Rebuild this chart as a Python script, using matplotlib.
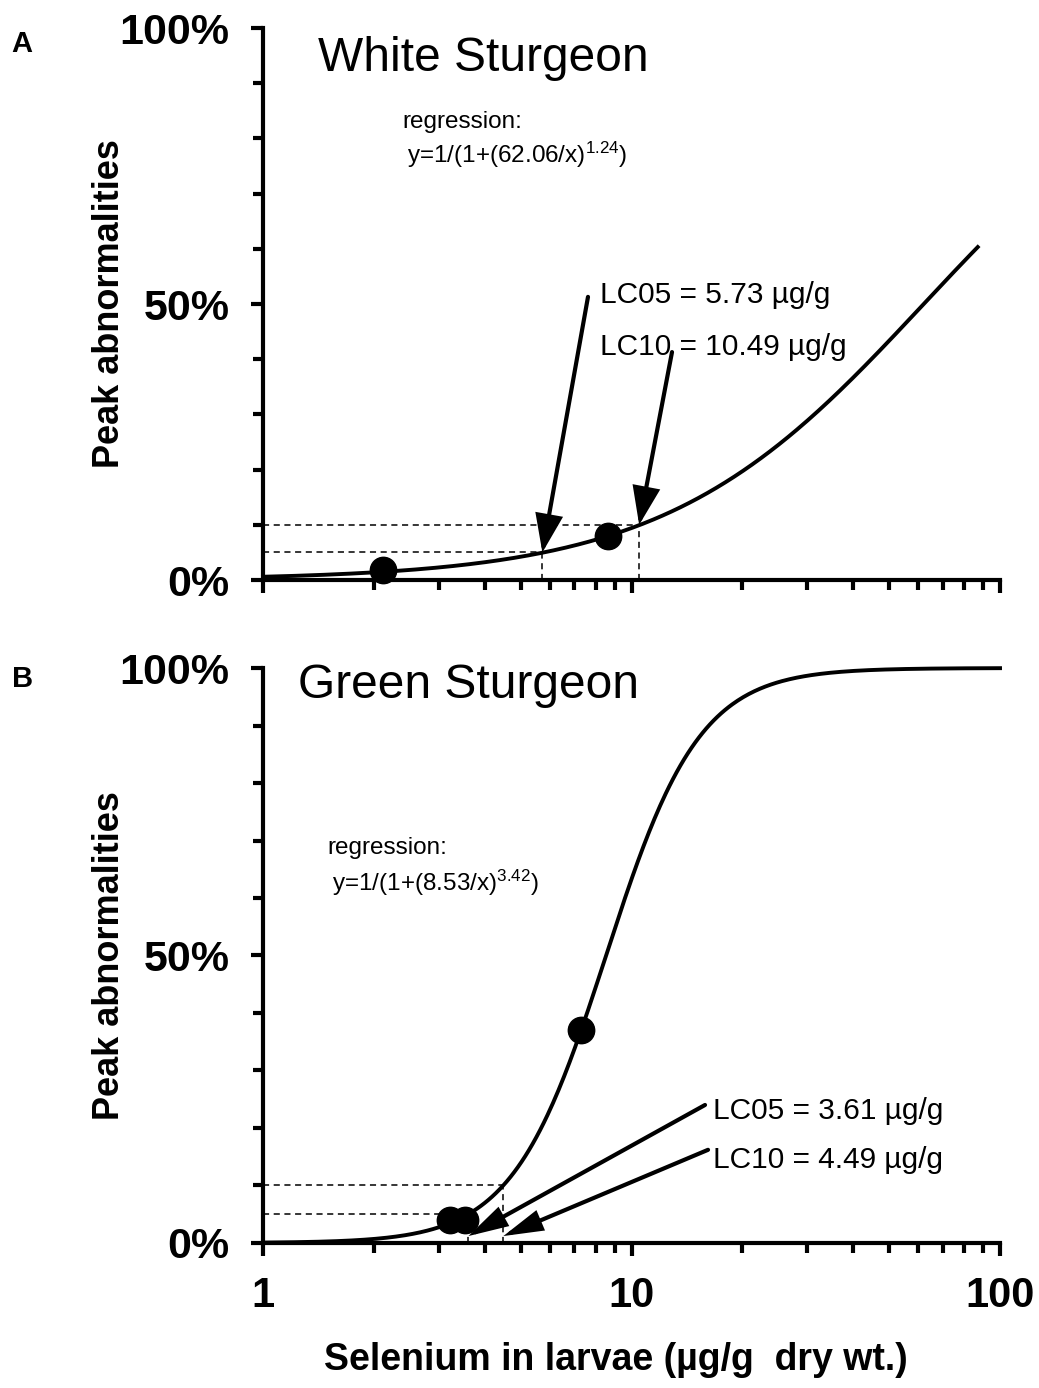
import numpy as np
import matplotlib
matplotlib.use('Agg')
import matplotlib.pyplot as plt
from matplotlib.ticker import FixedLocator, NullFormatter

plt.rcParams['font.family'] = ['Liberation Sans', 'DejaVu Sans']
plt.rcParams['mathtext.fontset'] = 'custom'
plt.rcParams['mathtext.rm'] = 'Liberation Sans'
plt.rcParams['mathtext.it'] = 'Liberation Sans'

# --- data ---
# White sturgeon: y = 1/(1+(ec50/x)^slope)
ws_ec50, ws_slope = 62.06, 1.24
ws_xmax = 87.0
ws_pts_x = [2.12, 8.63]
ws_pts_y = [0.018, 0.080]
ws_lc05, ws_lc10 = 5.73, 10.49

# Green sturgeon
gs_ec50, gs_slope = 8.53, 3.42
gs_xmax = 100.0
gs_pts_x = [3.22, 3.53, 7.29]
gs_pts_y = [0.040, 0.040, 0.370]
gs_lc05, gs_lc10 = 3.61, 4.49

y_ticks = [0, 0.5, 1.0]
y_ticklabels = ['0%', '50%', '100%']
x_ticks = [1, 10, 100]
x_ticklabels = ['1', '10', '100']


def logistic(x, ec50, slope):
    return 1.0 / (1.0 + (ec50 / x) ** slope)


fig = plt.figure(figsize=(10.39, 13.88), dpi=100)
axA = fig.add_axes([0.2531, 0.5821, 0.7094, 0.3977])
axB = fig.add_axes([0.2531, 0.1045, 0.7094, 0.4142])


def style_axis(ax, show_xlabels):
    ax.set_xscale('log')
    ax.set_xlim(1, 100)
    ax.set_ylim(0, 1)
    for s in ['top', 'right']:
        ax.spines[s].set_visible(False)
    for s in ['left', 'bottom']:
        ax.spines[s].set_linewidth(3)
    ax.yaxis.set_major_locator(FixedLocator(y_ticks))
    ax.yaxis.set_minor_locator(FixedLocator(np.arange(0.1, 1.0, 0.1)))
    ax.set_yticklabels(y_ticklabels, fontsize=31, fontweight='bold')
    ax.xaxis.set_major_locator(FixedLocator(x_ticks))
    minors = [m * d for d in [1, 10] for m in range(2, 10)]
    ax.xaxis.set_minor_locator(FixedLocator(minors))
    ax.xaxis.set_minor_formatter(NullFormatter())
    if show_xlabels:
        ax.set_xticklabels(x_ticklabels, fontsize=30, fontweight='bold')
    else:
        ax.set_xticklabels([])
    ax.tick_params(which='major', length=9, width=3, direction='out', pad=15)
    ax.tick_params(which='minor', length=7, width=3, direction='out')
    ax.tick_params(axis='x', which='major', pad=15)
    ax.set_ylabel('Peak abnormalities', fontsize=26, fontweight='bold')
    ax.yaxis.set_label_coords(-0.1845, 0.5)


def draw_panel(ax, ec50, slope, xmax, px, py, lc05, lc10, title, title_xy,
               reg_xy, lc_text_xy, arrows, head_w):
    x = np.logspace(0, np.log10(xmax), 400)
    ax.plot(x, logistic(x, ec50, slope), color='k', lw=2.8, zorder=3,
            clip_on=False)
    # dashed guide lines to LC05 / LC10
    dash = dict(color='k', lw=1.1, ls='--', dashes=(4, 3), zorder=2)
    ax.plot([1, lc05], [0.05, 0.05], **dash)
    ax.plot([1, lc10], [0.10, 0.10], **dash)
    ax.plot([lc10, lc10], [0, 0.10], **dash)
    ax.plot([lc05, lc05], [0, 0.05], **dash)
    ax.plot(px, py, 'o', color='k', ms=19, zorder=4, clip_on=False)
    ax.text(title_xy[0], title_xy[1], title, transform=ax.transAxes,
            fontsize=34.5, va='center', ha='left')
    ax.text(reg_xy[0], reg_xy[1], 'regression:', transform=ax.transAxes,
            fontsize=17.5, va='center', ha='left')
    ax.text(reg_xy[2], reg_xy[3],
            'y=1/(1+(%.2f/x)$^{%.2f}$)' % (ec50, slope),
            transform=ax.transAxes, fontsize=17.5, va='center', ha='left')
    ax.text(lc_text_xy[0], lc_text_xy[1], 'LC05 = %.2f µg/g' % lc05,
            fontsize=21.5, va='center', ha='left')
    ax.text(lc_text_xy[0], lc_text_xy[2], 'LC10 = %.2f µg/g' % lc10,
            fontsize=21.5, va='center', ha='left')
    style = '-|>,head_length=1.1,head_width=%.2f' % head_w
    for (tx, ty, hx, hy) in arrows:
        ax.annotate('', xy=(hx, hy), xytext=(tx, ty), annotation_clip=False,
                    arrowprops=dict(arrowstyle=style, color='k', lw=3,
                                    mutation_scale=20, joinstyle='miter',
                                    shrinkA=0, shrinkB=0, clip_on=False),
                    zorder=5)


style_axis(axA, False)
style_axis(axB, True)

draw_panel(axA, ws_ec50, ws_slope, ws_xmax, ws_pts_x, ws_pts_y, ws_lc05, ws_lc10,
           'White Sturgeon', (0.0746, 0.945), (0.189, 0.830, 0.195, 0.770),
           (8.21, 0.516, 0.422),
           [(7.62, 0.513, ws_lc05, 0.05), (12.88, 0.413, ws_lc10, 0.10)], 0.4)

draw_panel(axB, gs_ec50, gs_slope, gs_xmax, gs_pts_x, gs_pts_y, gs_lc05, gs_lc10,
           'Green Sturgeon', (0.0475, 0.970), (0.0868, 0.687, 0.0936, 0.626),
           (16.6, 0.2296, 0.144),
           [(15.83, 0.240, gs_lc05, 0.012), (16.13, 0.162, gs_lc10, 0.012)], 0.3)

fig.text(0.0212, 0.968, 'A', fontsize=21, fontweight='bold', ha='center', va='center')
fig.text(0.0216, 0.511, 'B', fontsize=21, fontweight='bold', ha='center', va='center')
fig.text(0.593, 0.020, 'Selenium in larvae (µg/g  dry wt.)', fontsize=27,
         fontweight='bold', ha='center', va='center')

fig.savefig('out.png', dpi=100)
